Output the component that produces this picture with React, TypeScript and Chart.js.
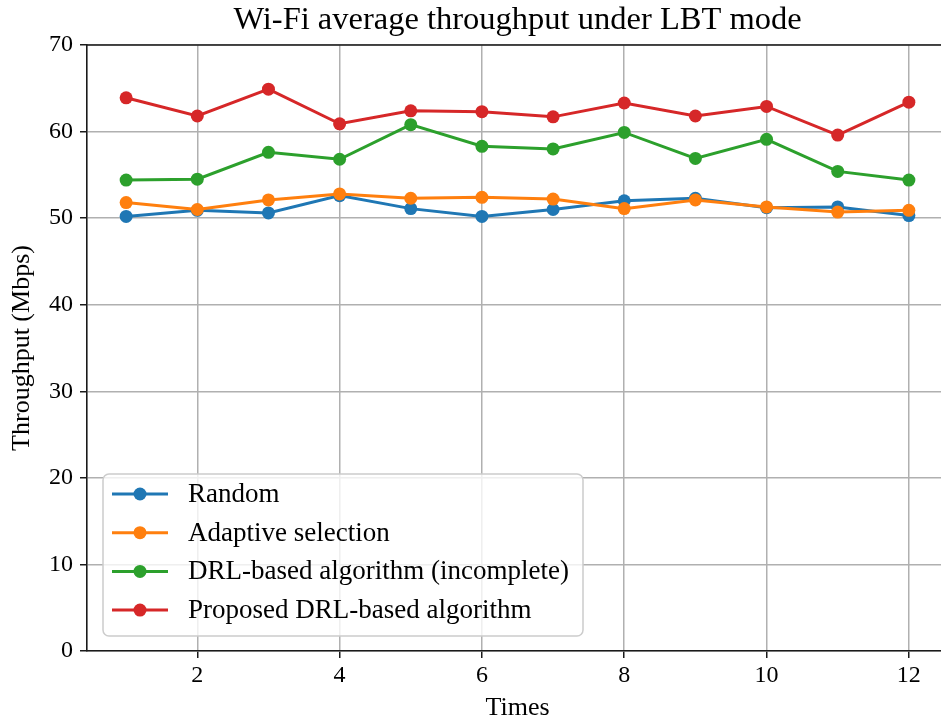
import React, { useEffect, useRef } from "react";
import { Chart, registerables } from "chart.js";

Chart.register(...registerables);

// Throughput (Mbps) per run, one array per scheme
const times = [1, 2, 3, 4, 5, 6, 7, 8, 9, 10, 11, 12];
const randomSel = [50.2, 50.9, 50.6, 52.6, 51.1, 50.2, 51.0, 52.0, 52.3, 51.2, 51.3, 50.3];
const adaptiveSel = [51.8, 51.0, 52.1, 52.8, 52.3, 52.4, 52.2, 51.1, 52.1, 51.3, 50.7, 50.9];
const drlIncomplete = [54.4, 54.5, 57.6, 56.8, 60.8, 58.3, 58.0, 59.9, 56.9, 59.1, 55.4, 54.4];
const drlProposed = [63.9, 61.8, 64.9, 60.9, 62.4, 62.3, 61.7, 63.3, 61.8, 62.9, 59.6, 63.4];

const seriesLabels = [
  "Random",
  "Adaptive selection",
  "DRL-based algorithm (incomplete)",
  "Proposed DRL-based algorithm",
];
const seriesColors = ["#1f77b4", "#ff7f0e", "#2ca02c", "#d62728"];
const seriesValues = [randomSel, adaptiveSel, drlIncomplete, drlProposed];

const xTickValues = [2, 4, 6, 8, 10, 12];
const yTickValues = [0, 10, 20, 30, 40, 50, 60, 70];

const titleText = "Wi-Fi average throughput under LBT mode";
const xLabel = "Times";
const yLabel = "Throughput (Mbps)";

const SERIF = "'Liberation Serif', 'Times New Roman', Times, serif";
const SPINE = "#1a1a1a";
const GRID = "#b0b0b0";

// Title centred over the plot area rather than the whole canvas
const plotTitle = {
  id: "plotTitle",
  afterDraw(chart: any) {
    const { ctx, chartArea } = chart;
    ctx.save();
    ctx.fillStyle = "#000";
    ctx.font = `32.5px ${SERIF}`;
    ctx.textAlign = "center";
    ctx.textBaseline = "middle";
    ctx.fillText(titleText, (chartArea.left + chartArea.right) / 2, 20);
    ctx.restore();
  },
};

// Top spine, drawn over the plotted lines like the axis borders
const topSpine = {
  id: "topSpine",
  afterDatasetsDraw(chart: any) {
    const { ctx, chartArea } = chart;
    ctx.save();
    ctx.strokeStyle = SPINE;
    ctx.lineWidth = 1.6;
    ctx.beginPath();
    ctx.moveTo(chartArea.left, chartArea.top);
    ctx.lineTo(chartArea.right, chartArea.top);
    ctx.stroke();
    ctx.restore();
  },
};

// Framed legend with line + marker handles, lower left of the plot
const framedLegend = {
  id: "framedLegend",
  afterDatasetsDraw(chart: any) {
    const { ctx, chartArea } = chart;
    const x0 = chartArea.left + 16;
    const y0 = chartArea.top + 429;
    const w = 480;
    const h = 162;
    ctx.save();
    ctx.beginPath();
    ctx.roundRect(x0, y0, w, h, 6);
    ctx.fillStyle = "rgba(255,255,255,0.8)";
    ctx.fill();
    ctx.strokeStyle = "#cccccc";
    ctx.lineWidth = 1.5;
    ctx.stroke();
    chart.data.datasets.forEach((ds: any, i: number) => {
      const cy = y0 + 20 + i * 38.7;
      ctx.strokeStyle = ds.borderColor;
      ctx.lineWidth = 3;
      ctx.beginPath();
      ctx.moveTo(x0 + 9, cy);
      ctx.lineTo(x0 + 65, cy);
      ctx.stroke();
      ctx.fillStyle = ds.borderColor;
      ctx.beginPath();
      ctx.arc(x0 + 37, cy, 6.5, 0, Math.PI * 2);
      ctx.fill();
      ctx.fillStyle = "#000";
      ctx.font = `27px ${SERIF}`;
      ctx.textBaseline = "middle";
      ctx.textAlign = "left";
      ctx.fillText(ds.label, x0 + 85, cy + 1);
    });
    ctx.restore();
  },
};

export default function App() {
  const canvasRef = useRef<HTMLCanvasElement | null>(null);

  useEffect(() => {
    if (!canvasRef.current) return;
    const chart = new Chart(canvasRef.current, {
      type: "line",
      data: {
        datasets: seriesValues.map((vals, i) => ({
          label: seriesLabels[i],
          data: vals.map((v, k) => ({ x: times[k], y: v })),
          borderColor: seriesColors[i],
          backgroundColor: seriesColors[i],
          pointBackgroundColor: seriesColors[i],
          pointBorderWidth: 0,
          pointRadius: 6.5,
          borderWidth: 3,
          tension: 0,
          fill: false,
          order: seriesValues.length - i,
        })),
      },
      options: {
        responsive: false,
        animation: false,
        devicePixelRatio: 1,
        layout: { padding: { left: 0, right: 87, top: 45, bottom: 0 } },
        plugins: {
          legend: { display: false },
          tooltip: { enabled: false },
          title: { display: false },
        },
        scales: {
          x: {
            type: "linear",
            min: 0.45,
            max: 12.55,
            afterBuildTicks: (scale: any) => {
              scale.ticks = xTickValues.map((v) => ({ value: v }));
            },
            afterFit: (scale: any) => {
              scale.height = 73;
            },
            ticks: {
              color: "#000",
              font: { family: SERIF, size: 24 },
              padding: 3,
              maxRotation: 0,
              autoSkip: false,
            },
            grid: {
              color: GRID,
              lineWidth: 1.5,
              tickColor: SPINE,
              tickLength: 7,
              drawTicks: true,
            },
            border: { color: SPINE, width: 1.6 },
            title: {
              display: true,
              text: xLabel,
              color: "#000",
              font: { family: SERIF, size: 26, lineHeight: 1.2 },
              padding: { top: 0, bottom: 0 },
            },
          },
          y: {
            type: "linear",
            min: 0,
            max: 70,
            afterBuildTicks: (scale: any) => {
              scale.ticks = yTickValues.map((v) => ({ value: v }));
            },
            afterFit: (scale: any) => {
              scale.width = 87;
            },
            ticks: {
              color: "#000",
              font: { family: SERIF, size: 24 },
              padding: 7,
            },
            grid: {
              color: GRID,
              lineWidth: 1.5,
              tickColor: SPINE,
              tickLength: 7,
              drawTicks: true,
            },
            border: { color: SPINE, width: 1.6 },
            title: {
              display: true,
              text: yLabel,
              color: "#000",
              font: { family: SERIF, size: 26, lineHeight: 1.2 },
              padding: { top: 7, bottom: 0 },
            },
          },
        },
      },
      plugins: [topSpine, framedLegend, plotTitle],
    } as any);
    return () => chart.destroy();
  }, []);

  return (
    <div
      style={{
        position: "fixed",
        left: 0,
        top: 0,
        width: 941,
        height: 724,
        overflow: "hidden",
        background: "#fff",
      }}
    >
      <canvas ref={canvasRef} width={1035} height={724} style={{ display: "block" }} />
    </div>
  );
}
